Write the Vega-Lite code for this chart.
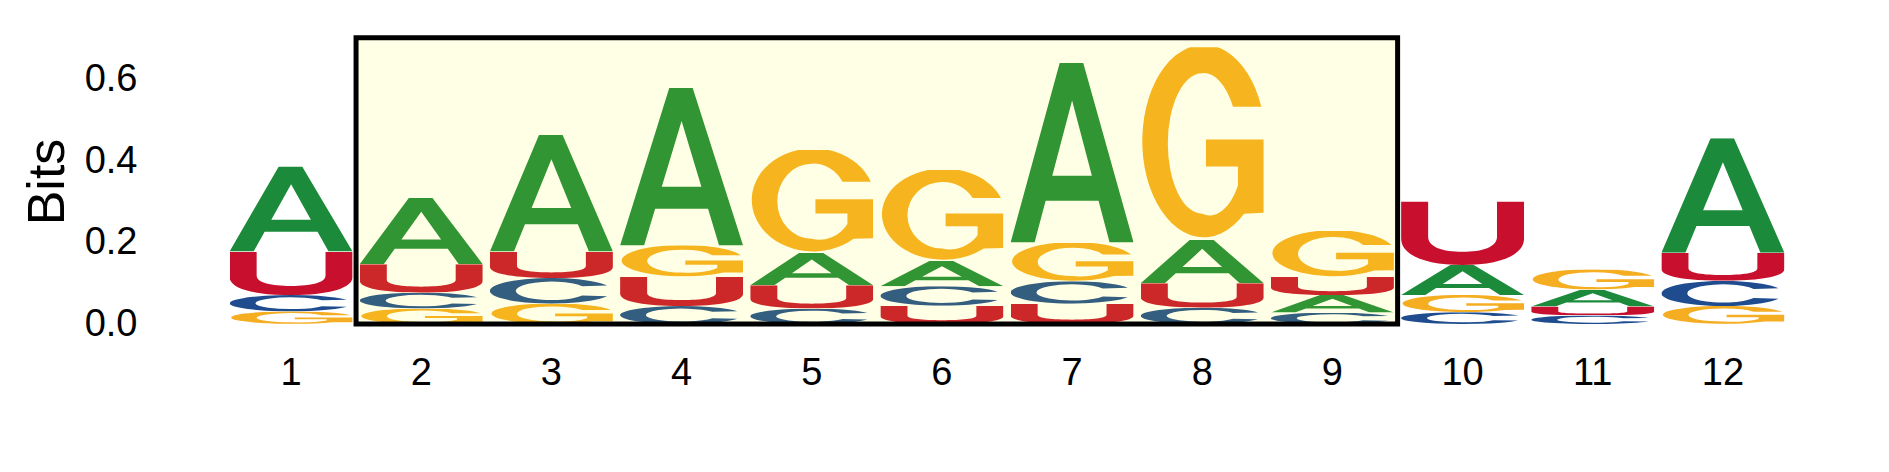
{
  "$schema": "https://vega.github.io/schema/vega-lite/v6.json",
  "width": 1562,
  "height": 285,
  "autosize": {"type": "none"},
  "padding": {"left": 226, "top": 39, "right": 101, "bottom": 148},
  "config": {"view": {"stroke": null}, "font": "Liberation Sans"},
  "datasets": {
    "letters": [
      {"pos": 1, "letter": "G", "bits": 0.031}, {"pos": 1, "letter": "C", "bits": 0.040}, {"pos": 1, "letter": "U", "bits": 0.107}, {"pos": 1, "letter": "A", "bits": 0.209},
      {"pos": 2, "letter": "G", "bits": 0.038}, {"pos": 2, "letter": "C", "bits": 0.039}, {"pos": 2, "letter": "U", "bits": 0.070}, {"pos": 2, "letter": "A", "bits": 0.163},
      {"pos": 3, "letter": "G", "bits": 0.050}, {"pos": 3, "letter": "C", "bits": 0.063}, {"pos": 3, "letter": "U", "bits": 0.065}, {"pos": 3, "letter": "A", "bits": 0.287},
      {"pos": 4, "letter": "C", "bits": 0.044}, {"pos": 4, "letter": "U", "bits": 0.072}, {"pos": 4, "letter": "G", "bits": 0.077}, {"pos": 4, "letter": "A", "bits": 0.387},
      {"pos": 5, "letter": "C", "bits": 0.038}, {"pos": 5, "letter": "U", "bits": 0.057}, {"pos": 5, "letter": "A", "bits": 0.080}, {"pos": 5, "letter": "G", "bits": 0.253},
      {"pos": 6, "letter": "U", "bits": 0.045}, {"pos": 6, "letter": "C", "bits": 0.048}, {"pos": 6, "letter": "A", "bits": 0.062}, {"pos": 6, "letter": "G", "bits": 0.224},
      {"pos": 7, "letter": "U", "bits": 0.050}, {"pos": 7, "letter": "C", "bits": 0.055}, {"pos": 7, "letter": "G", "bits": 0.095}, {"pos": 7, "letter": "A", "bits": 0.442},
      {"pos": 8, "letter": "C", "bits": 0.040}, {"pos": 8, "letter": "U", "bits": 0.060}, {"pos": 8, "letter": "A", "bits": 0.107}, {"pos": 8, "letter": "G", "bits": 0.473},
      {"pos": 9, "letter": "C", "bits": 0.028}, {"pos": 9, "letter": "A", "bits": 0.043}, {"pos": 9, "letter": "U", "bits": 0.045}, {"pos": 9, "letter": "G", "bits": 0.113},
      {"pos": 10, "letter": "C", "bits": 0.029}, {"pos": 10, "letter": "G", "bits": 0.042}, {"pos": 10, "letter": "A", "bits": 0.074}, {"pos": 10, "letter": "U", "bits": 0.156},
      {"pos": 11, "letter": "C", "bits": 0.021}, {"pos": 11, "letter": "U", "bits": 0.022}, {"pos": 11, "letter": "A", "bits": 0.041}, {"pos": 11, "letter": "G", "bits": 0.050},
      {"pos": 12, "letter": "G", "bits": 0.044}, {"pos": 12, "letter": "C", "bits": 0.062}, {"pos": 12, "letter": "U", "bits": 0.069}, {"pos": 12, "letter": "A", "bits": 0.281}
    ],
    "box": [{"from": 2, "to": 9, "top": 0.703}]
  },
  "layer": [
    {
      "data": {"name": "letters"},
      "transform": [
        {"stack": "bits", "groupby": ["pos"], "sort": [{"field": "bits", "order": "ascending"}], "as": ["y0", "y1"]}
      ],
      "encoding": {
        "x": {
          "field": "pos",
          "type": "ordinal",
          "scale": {"paddingInner": 0.055, "paddingOuter": 0.0275},
          "axis": {
            "title": null,
            "labelAngle": 0,
            "labelFontSize": 38,
            "labelColor": "black",
            "labelPadding": 30,
            "ticks": false,
            "domain": false,
            "grid": false
          }
        },
        "y": {
          "field": "y0",
          "type": "quantitative",
          "scale": {"domain": [0, 0.7], "nice": false},
          "axis": {
            "title": "Bits",
            "titleFontSize": 52,
            "titleFontWeight": "normal",
            "titleColor": "black",
            "titlePadding": 10,
            "values": [0, 0.2, 0.4, 0.6],
            "format": ".1f",
            "labelFontSize": 38,
            "labelColor": "black",
            "labelPadding": 89,
            "ticks": false,
            "domain": false,
            "grid": false
          }
        },
        "y2": {"field": "y1"}
      },
      "layer": [
        {
          "transform": [{"filter": "datum.letter === 'A'"}],
          "mark": {"type": "image", "aspect": false},
          "encoding": {"url": {"value": "data:image/svg+xml;charset=utf-8,%3Csvg%20xmlns='http://www.w3.org/2000/svg'%20viewBox='0%200%20100%20100'%20width='100'%20height='100'%20preserveAspectRatio='none'%3E%3Cpath%20fill='%231B8A3A'%20fill-rule='evenodd'%20d='M0,100L40,0H59L100,100H80.5L71.5,76.7H28.5L19.5,100ZM33.9,62.8H66.1L50,21Z'/%3E%3C/svg%3E"}}
        },
        {
          "transform": [{"filter": "datum.letter === 'C'"}],
          "mark": {"type": "image", "aspect": false},
          "encoding": {"url": {"value": "data:image/svg+xml;charset=utf-8,%3Csvg%20xmlns='http://www.w3.org/2000/svg'%20viewBox='0%200%20100%20100'%20width='100'%20height='100'%20preserveAspectRatio='none'%3E%3Cpath%20fill='%231E4C8E'%20fill-rule='evenodd'%20d='M95.3,28.9A50,50,0,1,0,95.3,71.1L75.1,68A29,36,0,1,1,75.1,32Z'/%3E%3C/svg%3E"}}
        },
        {
          "transform": [{"filter": "datum.letter === 'G'"}],
          "mark": {"type": "image", "aspect": false},
          "encoding": {"url": {"value": "data:image/svg+xml;charset=utf-8,%3Csvg%20xmlns='http://www.w3.org/2000/svg'%20viewBox='0%200%20100%20100'%20width='100'%20height='100'%20preserveAspectRatio='none'%3E%3Cpath%20fill='%23F5AD22'%20fill-rule='evenodd'%20d='M98,31A50,50,0,1,0,84,86.5L100,86V48H53V62H79V72A28,36.5,0,0,1,50,86.5A28,36.5,0,0,1,22,50A28,36.5,0,0,1,50,13.5A28,36.5,0,0,1,75,31Z'/%3E%3C/svg%3E"}}
        },
        {
          "transform": [{"filter": "datum.letter === 'U'"}],
          "mark": {"type": "image", "aspect": false},
          "encoding": {"url": {"value": "data:image/svg+xml;charset=utf-8,%3Csvg%20xmlns='http://www.w3.org/2000/svg'%20viewBox='0%200%20100%20100'%20width='100'%20height='100'%20preserveAspectRatio='none'%3E%3Cpath%20fill='%23C8102E'%20fill-rule='evenodd'%20d='M0,0H22V55C22,72,34,79,50,79C66,79,78,72,78,55V0H100V58C100,85,80,100,50,100C20,100,0,85,0,58Z'/%3E%3C/svg%3E"}}
        }
      ]
    },
    {
      "data": {"name": "box"},
      "mark": {"type": "rect", "fill": "#FFFF00", "fillOpacity": 0.1, "stroke": "black", "strokeWidth": 5},
      "encoding": {
        "x": {"field": "from", "type": "ordinal", "bandPosition": -0.03, "title": null},
        "x2": {"field": "to", "bandPosition": 1.03},
        "y": {"field": "top", "type": "quantitative", "title": "Bits"},
        "y2": {"datum": 0}
      }
    }
  ]
}
